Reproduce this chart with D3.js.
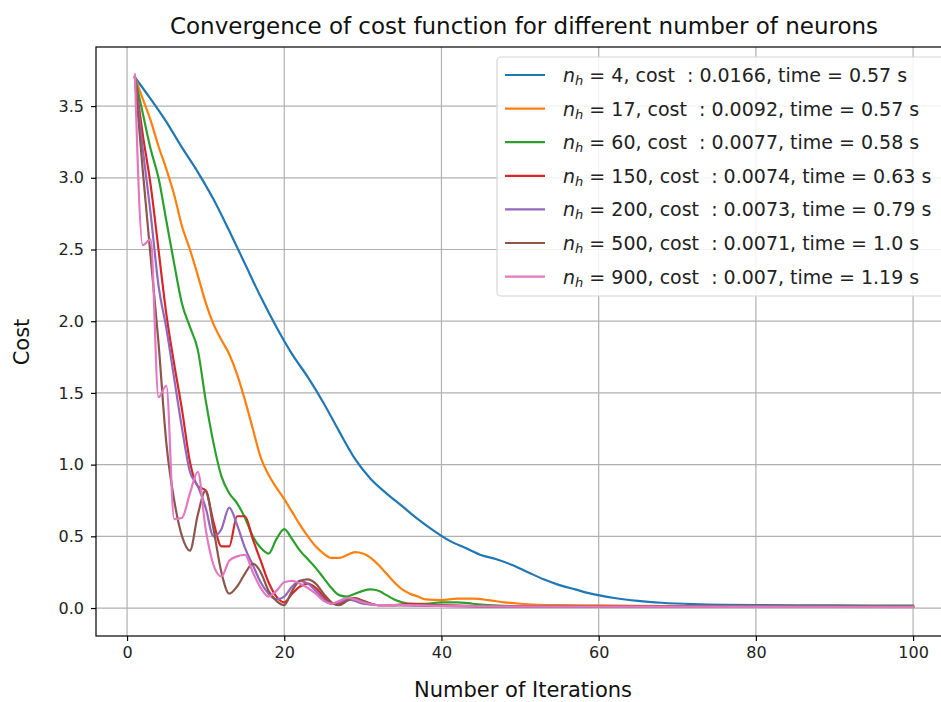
<!DOCTYPE html>
<html>
<head>
<meta charset="utf-8">
<script src="https://cdn.jsdelivr.net/npm/d3@7"></script>
<style>
  html, body { margin: 0; padding: 0; background: #fff; }
  svg { display: block; font-family: "DejaVu Sans", sans-serif; }
</style>
</head>
<body>
<svg id="chart" width="941" height="702"></svg>
<script>
// Hidden-layer sizes, final cost and training time per run
const neurons = [4, 17, 60, 150, 200, 500, 900];
const finalCost = ["0.0166", "0.0092", "0.0077", "0.0074", "0.0073", "0.0071", "0.007"];
const trainTime = ["0.57", "0.57", "0.58", "0.63", "0.79", "1.0", "1.19"];
const colors = ["#1f77b4", "#ff7f0e", "#2ca02c", "#d62728", "#9467bd", "#8c564b", "#e377c2"];

// Cost per iteration, [iteration, cost]
const costN4 = [[1,3.70],[3,3.55],[5,3.39],[7,3.21],[9,3.04],[11,2.85],[13,2.63],[15,2.40],[17,2.17],[19,1.96],[21,1.77],[23,1.61],[25,1.43],[27,1.23],[29,1.04],[31,0.90],[33,0.80],[35,0.71],[37,0.62],[39,0.54],[41,0.47],[43,0.42],[45,0.37],[47,0.34],[49,0.30],[51,0.25],[53,0.20],[55,0.16],[57,0.13],[59,0.10],[62,0.07],[65,0.05],[68,0.037],[72,0.027],[76,0.022],[80,0.02],[90,0.018],[100,0.0166]];
const costN17 = [[1,3.70],[2,3.55],[3,3.40],[4,3.22],[5,3.06],[6,2.88],[7,2.66],[8,2.50],[9,2.32],[10,2.13],[11,1.98],[12,1.87],[13,1.77],[14,1.63],[15,1.45],[16,1.25],[17,1.05],[18,0.93],[19,0.84],[20,0.76],[21,0.67],[22,0.58],[23,0.50],[24,0.43],[25,0.38],[26,0.35],[27,0.35],[28,0.37],[29,0.39],[30,0.38],[31,0.35],[32,0.30],[33,0.24],[34,0.18],[35,0.13],[36,0.10],[37,0.08],[38,0.06],[40,0.055],[42,0.065],[44,0.065],[46,0.055],[48,0.04],[50,0.03],[55,0.02],[60,0.018],[70,0.013],[80,0.011],[100,0.0092]];
const costN60 = [[1,3.70],[2,3.45],[3,3.20],[4,3.00],[5,2.70],[6,2.40],[7,2.12],[8,1.96],[9,1.80],[10,1.45],[11,1.15],[12,0.92],[13,0.80],[14,0.73],[15,0.63],[16,0.50],[17,0.42],[18,0.38],[19,0.48],[20,0.55],[21,0.48],[22,0.40],[23,0.34],[24,0.28],[25,0.21],[26,0.14],[27,0.09],[28,0.08],[29,0.10],[30,0.12],[31,0.13],[32,0.12],[33,0.09],[34,0.06],[35,0.04],[36,0.03],[38,0.03],[40,0.04],[42,0.04],[44,0.03],[46,0.02],[50,0.012],[60,0.009],[100,0.0077]];
const costN150 = [[1,3.70],[2,3.30],[3,2.95],[4,2.50],[5,2.05],[6,1.70],[7,1.38],[8,1.02],[9,0.85],[10,0.82],[11,0.60],[12,0.43],[13,0.43],[14,0.64],[15,0.64],[16,0.48],[17,0.33],[18,0.18],[19,0.08],[20,0.04],[21,0.10],[22,0.15],[23,0.17],[24,0.14],[25,0.08],[26,0.03],[27,0.03],[28,0.06],[29,0.07],[30,0.05],[32,0.02],[34,0.02],[36,0.03],[40,0.02],[50,0.01],[100,0.0074]];
const costN200 = [[1,3.70],[2,3.20],[3,2.75],[4,2.25],[5,1.95],[6,1.60],[7,1.25],[8,0.95],[9,0.85],[10,0.70],[11,0.50],[12,0.55],[13,0.70],[14,0.58],[15,0.42],[16,0.30],[17,0.18],[18,0.10],[19,0.06],[20,0.08],[21,0.15],[22,0.19],[23,0.17],[24,0.12],[25,0.06],[26,0.03],[27,0.04],[28,0.06],[29,0.05],[30,0.03],[32,0.02],[35,0.02],[40,0.015],[50,0.01],[100,0.0073]];
const costN500 = [[1,3.70],[2,3.05],[3,2.45],[4,1.85],[5,1.15],[6,0.75],[7,0.50],[8,0.40],[9,0.65],[10,0.82],[11,0.55],[12,0.25],[13,0.10],[14,0.15],[15,0.24],[16,0.31],[17,0.25],[18,0.12],[19,0.05],[20,0.02],[21,0.12],[22,0.19],[23,0.20],[24,0.17],[25,0.10],[26,0.04],[27,0.02],[28,0.05],[29,0.07],[30,0.05],[32,0.02],[35,0.02],[40,0.015],[50,0.01],[100,0.0071]];
const costN900 = [[1,3.72],[2,2.53],[3,2.57],[4,1.47],[5,1.55],[6,0.62],[7,0.63],[8,0.80],[9,0.95],[10,0.55],[11,0.30],[12,0.22],[13,0.33],[14,0.36],[15,0.37],[16,0.25],[17,0.14],[18,0.08],[19,0.12],[20,0.18],[21,0.19],[22,0.17],[23,0.14],[24,0.10],[25,0.05],[26,0.03],[27,0.05],[28,0.07],[29,0.06],[30,0.04],[32,0.02],[35,0.02],[40,0.015],[50,0.01],[100,0.007]];
const seriesCost = [costN4, costN17, costN60, costN150, costN200, costN500, costN900];

const xTicks = [0, 20, 40, 60, 80, 100];
const yTicks = [0.0, 0.5, 1.0, 1.5, 2.0, 2.5, 3.0, 3.5];

const svg = d3.select("#chart");
const plot = { left: 96, right: 952, top: 47, bottom: 636 };

const x = d3.scaleLinear().domain([-3.95, 104.95]).range([plot.left, plot.right]);
const y = d3.scaleLinear().domain([-0.195, 3.912]).range([plot.bottom, plot.top]);

// Grid lines
const grid = svg.append("g").attr("stroke", "#b0b0b0").attr("stroke-width", 1.2);
grid.selectAll(".gx").data(xTicks).join("line")
  .attr("x1", d => x(d)).attr("x2", d => x(d))
  .attr("y1", plot.top).attr("y2", plot.bottom);
grid.selectAll(".gy").data(yTicks).join("line")
  .attr("x1", plot.left).attr("x2", plot.right)
  .attr("y1", d => y(d)).attr("y2", d => y(d));

// Cost curves
svg.append("defs").append("clipPath").attr("id", "clip")
  .append("rect").attr("x", plot.left).attr("y", plot.top)
  .attr("width", plot.right - plot.left).attr("height", plot.bottom - plot.top);

const line = d3.line().x(d => x(d[0])).y(d => y(d[1])).curve(d3.curveMonotoneX);
svg.append("g").attr("clip-path", "url(#clip)")
  .selectAll("path").data(seriesCost).join("path")
  .attr("d", line)
  .attr("fill", "none")
  .attr("stroke", (d, i) => colors[i])
  .attr("stroke-width", 2.2)
  .attr("stroke-linejoin", "round")
  .attr("stroke-linecap", "square");

// Axes
const xAxis = d3.axisBottom(x).tickValues(xTicks).tickFormat(d3.format("d")).tickSize(5).tickPadding(6);
const yAxis = d3.axisLeft(y).tickValues(yTicks).tickFormat(d3.format(".1f")).tickSize(5).tickPadding(7);

const gx = svg.append("g").attr("transform", `translate(0,${plot.bottom})`).call(xAxis);
const gy = svg.append("g").attr("transform", `translate(${plot.left},0)`).call(yAxis);
[gx, gy].forEach(g => {
  g.select(".domain").remove();
  g.selectAll(".tick line").attr("stroke", "#000").attr("stroke-width", 1.2);
  g.selectAll(".tick text").attr("fill", "#222").style("font-size", "16px")
    .style("font-family", "'DejaVu Sans', sans-serif");
});

// Frame
svg.append("rect")
  .attr("x", plot.left).attr("y", plot.top)
  .attr("width", plot.right - plot.left).attr("height", plot.bottom - plot.top)
  .attr("fill", "none").attr("stroke", "#000").attr("stroke-width", 1.2);

// Titles
svg.append("text").attr("x", 524).attr("y", 34).attr("text-anchor", "middle")
  .style("font-size", "23px").attr("fill", "#111")
  .text("Convergence of cost function for different number of neurons");
svg.append("text").attr("x", 523).attr("y", 697).attr("text-anchor", "middle")
  .style("font-size", "21px").attr("fill", "#111")
  .text("Number of Iterations");
svg.append("text").attr("transform", "translate(29,342) rotate(-90)").attr("text-anchor", "middle")
  .style("font-size", "21px").attr("fill", "#111")
  .text("Cost");

// Legend
const legend = svg.append("g");
legend.append("rect").attr("x", 497).attr("y", 57).attr("width", 460).attr("height", 239)
  .attr("rx", 4).attr("fill", "#fff").attr("fill-opacity", 0.85)
  .attr("stroke", "#d6d6d6").attr("stroke-width", 1.2);
const rows = legend.selectAll(".row").data(neurons).join("g")
  .attr("transform", (d, i) => `translate(0,${75 + i * 33.6})`);
rows.append("line").attr("x1", 505).attr("x2", 545).attr("y1", 0).attr("y2", 0)
  .attr("stroke", (d, i) => colors[i]).attr("stroke-width", 2.2);
const lt = rows.append("text").attr("x", 563).attr("y", 7).style("font-size", "19px").attr("fill", "#222")
  .attr("xml:space", "preserve");
lt.append("tspan").style("font-style", "italic").text("n");
lt.append("tspan").style("font-style", "italic").style("font-size", "13px").attr("dy", 3).text("h");
lt.append("tspan").attr("dy", -3).text((d, i) => ` = ${d}, cost  : ${finalCost[i]}, time = ${trainTime[i]} s`);
</script>
</body>
</html>
